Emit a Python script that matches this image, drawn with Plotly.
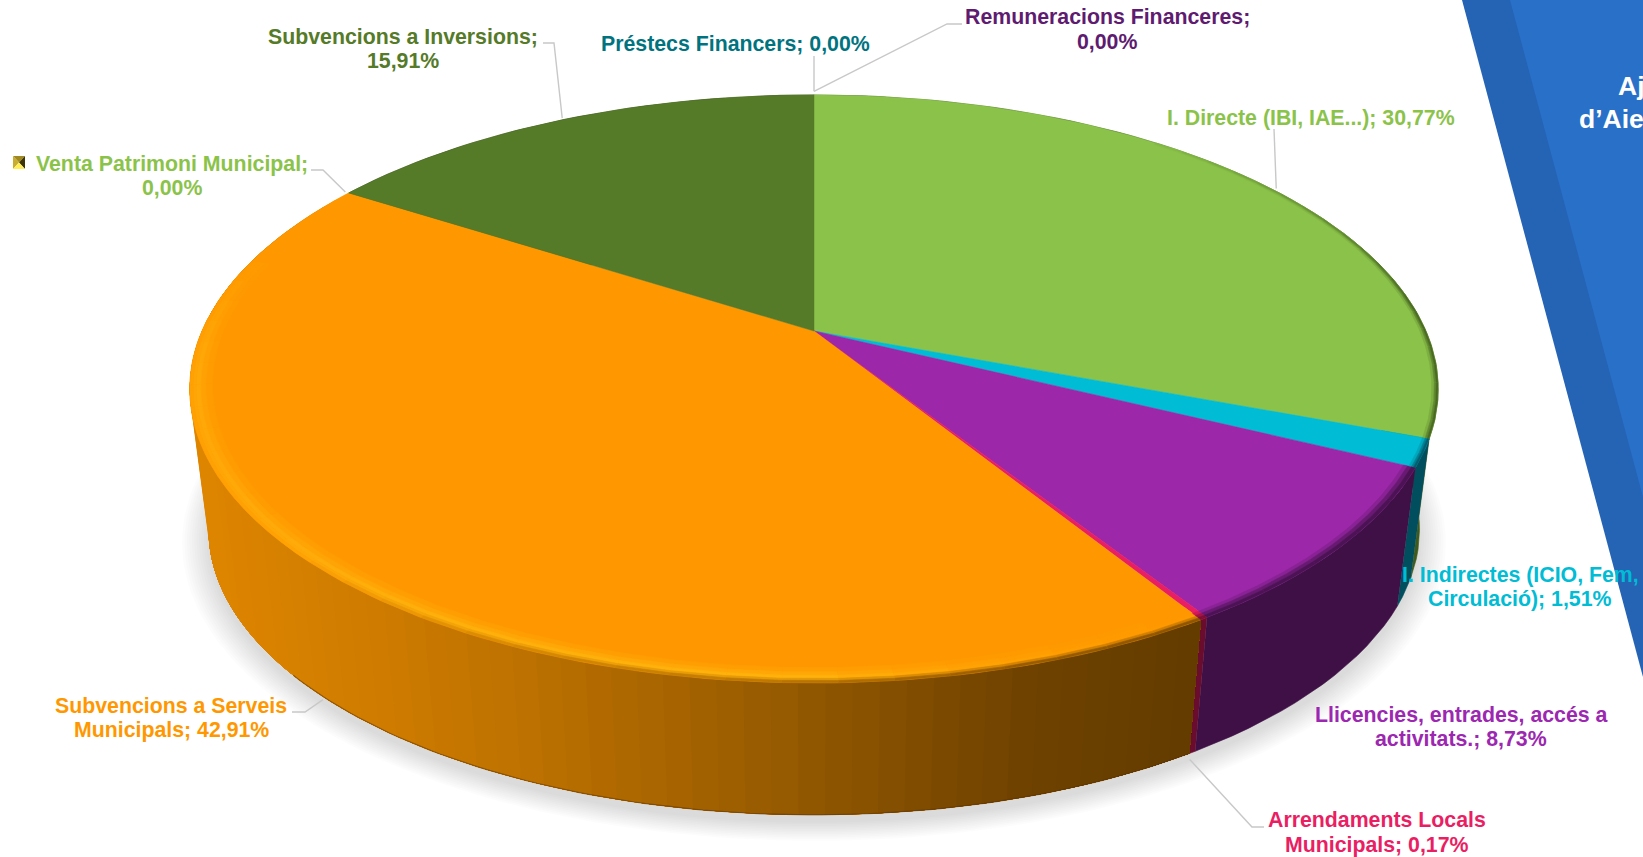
import numpy as np
import plotly.graph_objects as go

# ---------- data ----------
categories = ["I. Directe (IBI, IAE...)", "I. Indirectes (ICIO, Fem, Circulació)",
              "Llicencies, entrades, accés a activitats.", "Arrendaments Locals Municipals",
              "Subvencions a Serveis Municipals", "Venta Patrimoni Municipal",
              "Subvencions a Inversions", "Préstecs Financers", "Remuneracions Financeres"]
values = [30.77, 1.51, 8.73, 0.17, 42.91, 0.00, 15.91, 0.00, 0.00]
label_lines = [["I. Directe (IBI, IAE...); 30,77%"],
               ["I. Indirectes (ICIO, Fem,", "Circulació); 1,51%"],
               ["Llicencies, entrades, accés a", "activitats.; 8,73%"],
               ["Arrendaments Locals", "Municipals; 0,17%"],
               ["Subvencions a Serveis", "Municipals; 42,91%"],
               ["Venta Patrimoni Municipal;", "0,00%"],
               ["Subvencions a Inversions;", "15,91%"],
               ["Préstecs Financers; 0,00%"],
               ["Remuneracions Financeres;", "0,00%"]]

# ---------- styles ----------
top_colors = ["#8BC34A", "#00BCD4", "#9C27A8", "#E91E63", "#FF9800", "#8BC34A", "#557A28", "#00737F", "#5E1B70"]
wall_colors = ["#3E5A1C", "#004E5E", "#3E1045", "#6A0C2E", "#A86400", "#3E5A1C", "#2E4210", "#004048", "#300A38"]
text_colors = ["#8BC34A", "#00BCD4", "#9C27B0", "#E91E63", "#FF9800", "#8BC34A", "#557A28", "#00737F", "#5E1B70"]
label_xy = [(1311, 118), (1520, 587), (1461, 727), (1377, 832.5), (171, 718), (172, 176), (403, 49), (735, 44), (1107, 29.5)]
elbows = [[(1274, 129)], None, None, [(1252, 827), (1264, 827)], [(305, 712), (292, 712)],
          [(323, 170), (311, 170)], [(554, 43), (543, 43)], [(814, 56)], [(947, 24), (962, 24)]]
leader_nudge = [(6, 3), None, None, (-8, 3), (7, 0), (0, 0), (0, 0), (0, -2), (0, -2)]
FONT = "Liberation Sans, Arial, sans-serif"
FS = 21.3
LINE = 24.5

# perspective projection of the pie
CX, CY, A, B, K = 814.0, 331.0, 612.0, 282.6, 0.197
CYB, S = 473.5, 0.97


def top_pt(t, r=1.0):
    X, Y = r * np.cos(t), r * np.sin(t)
    w = 1 + K * Y
    return CX + A * X / w, CY - B * Y / w


def bot_pt(t, r=1.0, dy=0.0):
    X, Y = r * np.cos(t), r * np.sin(t)
    w = 1 + K * Y
    return CX + S * A * X / w, CYB + dy - S * B * Y / w


def rgb(c):
    return np.array([int(c[i:i + 2], 16) for i in (1, 3, 5)], float)


def mix(a, b, f):
    v = a * (1 - f) + b * f
    return "rgb(%d,%d,%d)" % tuple(np.round(v))


def poly(fig, x, y, color, lw=0.0):
    fig.add_trace(go.Scatter(x=list(x), y=list(y), mode="lines", fill="toself", fillcolor=color,
                             line=dict(color=color, width=lw), hoverinfo="skip", showlegend=False))


fig = go.Figure()

fracs = np.array(values) / sum(values)
edges = np.concatenate([[0], np.cumsum(fracs)])
starts = np.pi / 2 - 2 * np.pi * edges[:-1]
ends = np.pi / 2 - 2 * np.pi * edges[1:]
mids = (starts + ends) / 2

# soft shadow under the pie
tt = np.linspace(0, 2 * np.pi, 241)
for r in np.linspace(1.042, 1.0, 12):
    x, y = bot_pt(tt, r, 8)
    poly(fig, x, y, "rgba(0,0,0,0.0105)")

# side walls
R_X = [200, 400, 500, 750, 1000, 1190, 1300]
R_V = [224, 204, 192, 154, 112, 100, 100]
for i, f in enumerate(fracs):
    if f == 0 or i == 4:
        continue
    aa = np.linspace(starts[i], ends[i], max(4, int(f * 200)))
    xt, yt = top_pt(aa)
    xb, yb = bot_pt(aa)
    poly(fig, np.r_[xt, xb[::-1]], np.r_[yt, yb[::-1]], wall_colors[i], lw=0.6)

# orange wall: sweep from its back-left end to the front-right, every piece overlapping the next
sweep = np.linspace(ends[4], starts[4], 76)[:-1]
for a in sweep:
    aa = np.linspace(a, starts[4], 80)
    xt, yt = top_pt(aa)
    xb, yb = bot_pt(aa)
    v = np.interp(float(xb[0]), R_X, R_V)
    poly(fig, np.r_[xt, xb[::-1]], np.r_[yt, yb[::-1]], "rgb(%d,%d,0)" % (v, v * 0.6))

# dark lower edge of the orange wall (front part only)
aa = np.linspace(starts[4], np.radians(-140), 90)
xb, yb = bot_pt(aa)
fig.add_trace(go.Scatter(x=xb, y=yb, mode="lines", line=dict(color="rgba(90,50,0,0.5)", width=1.2),
                         hoverinfo="skip", showlegend=False))

# top face
for i, f in enumerate(fracs):
    if f == 0:
        continue
    aa = np.linspace(starts[i], ends[i], max(4, int(f * 300)))
    x, y = top_pt(aa)
    poly(fig, np.r_[CX, x, CX], np.r_[CY, y, CY], top_colors[i], lw=0.5)

# bevel along the rim
HI = rgb("#FFB20C")
BASE_O = rgb("#FF9800")
DARK_O = rgb("#6B4000")
RIMS = [(0.965, 0.975), (0.975, 0.983), (0.983, 0.990), (0.990, 0.995), (0.995, 1.0)]
H_W = [0.25, 0.6, 1.0, 0.85, 0.5]
D_W = [0.0, 0.0, 0.0, 0.35, 0.85]


def strip(a, b, r0, r1):
    aa = np.linspace(a, b, 3)
    x1, y1 = top_pt(aa, r1)
    x0, y0 = top_pt(aa, r0)
    return np.r_[x1, x0[::-1]], np.r_[y1, y0[::-1]]


# orange
ts = np.linspace(np.radians(-195), starts[4], 33)
for a, b in zip(ts[:-1], ts[1:]):
    m = (a + b) / 2
    xm, ym = top_pt(m)
    Y = np.sin(m)
    h = np.interp(xm, [190, 260, 400, 800, 1000, 1190], [0.6, 0.7, 0.9, 1, 0.35, 0]) * np.interp(Y, [-0.1, 0.28], [1, 0])
    d = np.interp(xm, [300, 500, 800, 1000, 1190], [0, 0.3, 0.55, 0.8, 0.9]) * np.interp(Y, [-0.4, -0.1], [1, 0])
    for n, (r0, r1) in enumerate(RIMS):
        col = mix(BASE_O * (1 - h * H_W[n]) + HI * h * H_W[n], DARK_O, d * D_W[n])
        x, y = strip(a, b, r0, r1)
        poly(fig, x, y, col, lw=0.6)

# other visible slices
for i in (0, 1, 2, 3):
    if i == 0:
        n_seg = 20
        a0 = np.radians(50.0)
    else:
        n_seg = max(2, int(fracs[i] * 60))
        a0 = starts[i]
    ts = np.linspace(a0, ends[i], n_seg + 1)
    for a, b in zip(ts[:-1], ts[1:]):
        fade = np.interp((a + b) / 2, [np.radians(5), np.radians(50)], [1, 0.1]) if i == 0 else 1
        widths = [(0.990, 0.994), (0.994, 0.997), (0.997, 1.0)] if i < 2 else [(0.982, 0.988), (0.988, 0.994), (0.994, 1.0)]
        for n, (r0, r1) in enumerate(widths):
            col = mix(rgb(top_colors[i]), rgb(wall_colors[i]), fade * [0.2, 0.55, 0.85][n])
            x, y = strip(a, b, r0, r1)
            poly(fig, x, y, col, lw=0.5)

# leader lines
lx, ly = [], []
for i, el in enumerate(elbows):
    if el is None:
        continue
    if i in (3, 4):
        ax, ay = bot_pt(mids[i], 1.012)
    else:
        ax, ay = top_pt(mids[i], 1.008)
    nx, ny = leader_nudge[i]
    lx += [float(ax) + nx] + [p[0] for p in el] + [None]
    ly += [float(ay) + ny] + [p[1] for p in el] + [None]
fig.add_trace(go.Scatter(x=lx, y=ly, mode="lines", line=dict(color="#C8C8C8", width=1.4),
                         hoverinfo="skip", showlegend=False))

# labels
annotations = []
for i, lines in enumerate(label_lines):
    x0, y0 = label_xy[i]
    for j, t in enumerate(lines):
        annotations.append(dict(x=x0, y=y0 + (j - (len(lines) - 1) / 2) * LINE, xref="x", yref="y",
                                text="<b>%s</b>" % t, showarrow=False, xanchor="center", yanchor="middle",
                                font=dict(family=FONT, size=FS, color=text_colors[i])))

# blue panel text
for t, x0, y0 in (("Aj", 1616, 86), ("d’Aie", 1577, 119)):
    annotations.append(dict(x=x0, y=y0, xref="x", yref="y", text="<b>%s</b>" % t, showarrow=False, xanchor="left",
                            yanchor="middle", font=dict(family=FONT, size=26.5, color="white")))

# blue panel and the small bevelled key
shapes = [
    dict(type="path", path="M1462,0 L1643,677 L1643,0 Z", fillcolor="#2563B5", line_width=0, layer="below", xref="x", yref="y"),
    dict(type="path", path="M1510,0 L1643,497 L1643,0 Z", fillcolor="#2970C9", line_width=0, layer="below", xref="x", yref="y"),
    dict(type="path", path="M13,156 L25,156 L19,162.5 Z", fillcolor="#A08A20", line_width=0, xref="x", yref="y"),
    dict(type="path", path="M13,156 L19,162.5 L13,169 Z", fillcolor="#C8AC30", line_width=0, xref="x", yref="y"),
    dict(type="path", path="M25,156 L25,169 L19,162.5 Z", fillcolor="#3E3408", line_width=0, xref="x", yref="y"),
    dict(type="path", path="M13,169 L25,169 L19,162.5 Z", fillcolor="#FFEE55", line_width=0, xref="x", yref="y"),
]

fig.update_layout(width=1643, height=857, autosize=False, margin=dict(l=0, r=0, t=0, b=0),
                  paper_bgcolor="white", plot_bgcolor="rgba(0,0,0,0)", showlegend=False,
                  xaxis=dict(range=[0, 1643], visible=False, fixedrange=True),
                  yaxis=dict(range=[857, 0], visible=False, fixedrange=True),
                  annotations=annotations, shapes=shapes)
fig.write_html("out.html", config={"displayModeBar": False},
               post_script="document.body.style.margin='0';document.body.style.overflow='hidden';")
